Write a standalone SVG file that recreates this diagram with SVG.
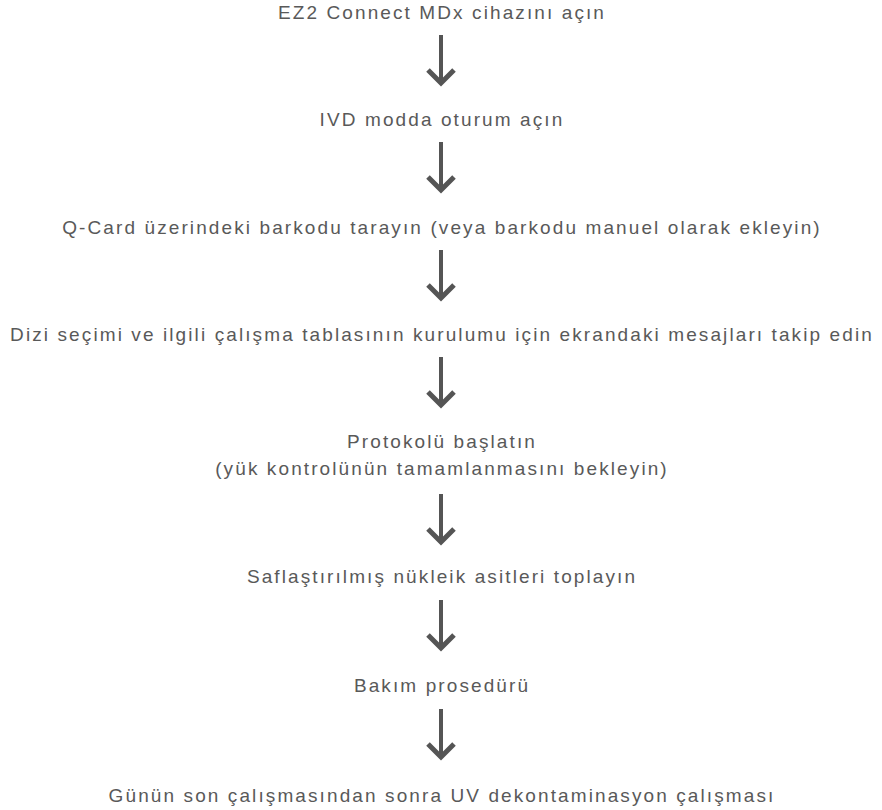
<svg xmlns="http://www.w3.org/2000/svg" width="882" height="810" viewBox="0 0 882 810">
<style>
text{font-family:"Liberation Sans",Arial,sans-serif;font-size:19px;letter-spacing:2.1px;fill:#595959;text-anchor:middle}
.c line{stroke:#555;stroke-width:4;fill:none}
.c polyline{stroke:#555;stroke-width:5;fill:none;stroke-linejoin:miter}
</style>
<rect width="882" height="810" fill="#fff"/>
<g id="n1"><text x="442" y="19">EZ2 Connect MDx cihazını açın</text></g>
<g id="n2"><text x="442" y="126">IVD modda oturum açın</text></g>
<g id="n3"><text x="442" y="234">Q-Card üzerindeki barkodu tarayın (veya barkodu manuel olarak ekleyin)</text></g>
<g id="n4"><text x="442" y="341">Dizi seçimi ve ilgili çalışma tablasının kurulumu için ekrandaki mesajları takip edin</text></g>
<g id="n5"><text x="442" y="448">Protokolü başlatın</text><text x="442" y="475">(yük kontrolünün tamamlanmasını bekleyin)</text></g>
<g id="n6"><text x="442" y="583">Saflaştırılmış nükleik asitleri toplayın</text></g>
<g id="n7"><text x="442" y="692">Bakım prosedürü</text></g>
<g id="n8"><text x="442" y="802">Günün son çalışmasından sonra UV dekontaminasyon çalışması</text></g>
<g class="c" id="connectors">
<line x1="441" y1="35" x2="441" y2="82"/><polyline points="428,70 441,83 454,70"/>
<line x1="441" y1="142" x2="441" y2="189"/><polyline points="428,177 441,190 454,177"/>
<line x1="441" y1="250" x2="441" y2="297"/><polyline points="428,285 441,298 454,285"/>
<line x1="441" y1="357" x2="441" y2="404"/><polyline points="428,392 441,405 454,392"/>
<line x1="441" y1="494" x2="441" y2="541"/><polyline points="428,529 441,542 454,529"/>
<line x1="441" y1="600" x2="441" y2="647"/><polyline points="428,635 441,648 454,635"/>
<line x1="441" y1="709" x2="441" y2="756"/><polyline points="428,744 441,757 454,744"/>
</g>
</svg>
